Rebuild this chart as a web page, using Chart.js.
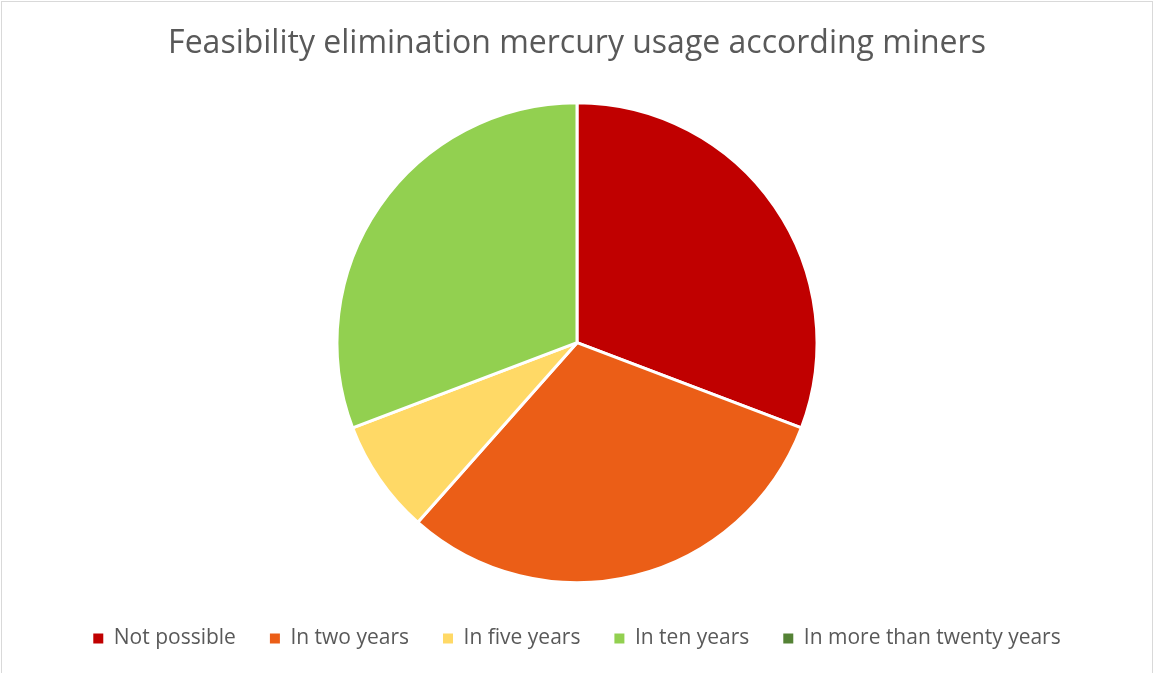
<!DOCTYPE html>
<html>
<head>
<meta charset="utf-8">
<script src="https://cdn.jsdelivr.net/npm/chart.js@4"></script>
<style>
  html, body { margin: 0; padding: 0; background: #fff; overflow: hidden; }
  .wrap_chart {
    position: absolute; left: 1px; top: 1px;
    width: 1150px; height: 680px;
    border: 1px solid #d9d9d9;
  }
  #chart { position: absolute; left: -2px; top: -2px; }
</style>
</head>
<body>
<div class="wrap_chart"><canvas id="chart" width="1154" height="673"></canvas></div>
<script>
const categories = ["Not possible", "In two years", "In five years", "In ten years", "In more than twenty years"];
const answers = [4, 4, 1, 4, 0];
const colors = ["#c00000", "#eb5e17", "#ffd966", "#92d050", "#548235"];

const context = document.getElementById("chart").getContext("2d");
const pieLabels = Chart.overrides.pie.plugins.legend.labels.generateLabels;

new Chart(context, {
    type: "pie",
    data: {
        labels: categories,
        datasets: [
            {
                data: answers,
                backgroundColor: colors,
                borderColor: "#ffffff",
                borderWidth: 3,
                radius: 240,
            },
        ],
    },
    options: {
        responsive: false,
        animation: false,
        layout: { padding: { top: 0, bottom: 14 } },
        plugins: {
            title: {
                display: true,
                text: "Feasibility elimination mercury usage according miners",
                color: "#595959",
                font: { family: "Open Sans", size: 32, weight: "normal" },
                padding: { top: 25, bottom: 28 },
            },
            legend: {
                position: "bottom",
                labels: {
                    color: "#595959",
                    font: { family: "Open Sans", size: 21 },
                    boxWidth: 10,
                    boxHeight: 10,
                    padding: 34,
                    // plain filled squares, without the white slice border
                    generateLabels: (chart) => pieLabels(chart).map((item) => ({ ...item, lineWidth: 0 })),
                },
            },
            tooltip: { enabled: false },
        },
    },
});
</script>
</body>
</html>
